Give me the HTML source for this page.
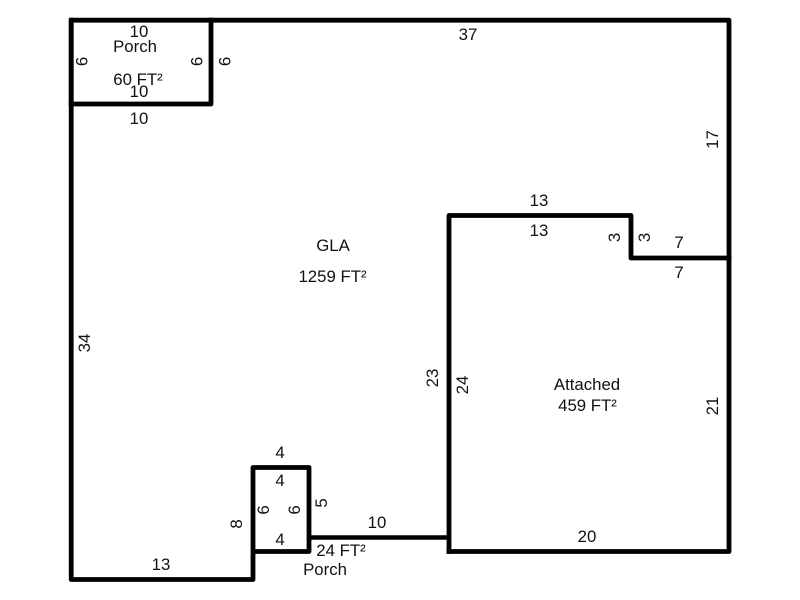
<!DOCTYPE html>
<html>
<head>
<meta charset="utf-8">
<style>
html,body{margin:0;padding:0;background:#fff}
svg{display:block}
text{font-family:"Liberation Sans",Arial,sans-serif;font-size:16.8px;fill:#111;text-anchor:middle}
</style>
</head>
<body>
<svg width="800" height="600" viewBox="0 0 800 600" xmlns="http://www.w3.org/2000/svg">
<g fill="none" stroke="#000" stroke-width="4.8" stroke-linecap="square" stroke-linejoin="round">
<path d="M71.2 104V20.2H729V551.5H449"/>
<path d="M71.2 20.2V579.5H253V467.5H309V551.5H253"/>
<path d="M71.2 104H211V20.2"/>
<path d="M449 551.5V215.5H631V258H729"/>
</g>
<path d="M309 537.5H449" fill="none" stroke="#000" stroke-width="4.4"/>
<text x="139" y="37">10</text>
<text x="135" y="52">Porch</text>
<text x="138" y="85">60 FT²</text>
<text x="139" y="97">10</text>
<text x="139" y="124">10</text>
<text x="468" y="40">37</text>
<text x="539" y="206">13</text>
<text x="539" y="236">13</text>
<text x="679" y="248">7</text>
<text x="679" y="278">7</text>
<text x="333" y="251">GLA</text>
<text x="332.5" y="282">1259 FT²</text>
<text x="587" y="390">Attached</text>
<text x="587.5" y="411">459 FT²</text>
<text x="280" y="458">4</text>
<text x="280" y="486">4</text>
<text x="280" y="545">4</text>
<text x="377" y="528">10</text>
<text x="341" y="556">24 FT²</text>
<text x="325" y="575">Porch</text>
<text x="587" y="542">20</text>
<text x="161" y="570">13</text>
<g>
<text transform="translate(87.5,61.5) rotate(-90)">6</text>
<text transform="translate(202.5,61.5) rotate(-90)">6</text>
<text transform="translate(230.5,61.5) rotate(-90)">6</text>
<text transform="translate(718,139.5) rotate(-90)">17</text>
<text transform="translate(620,237.5) rotate(-90)">3</text>
<text transform="translate(650,237.5) rotate(-90)">3</text>
<text transform="translate(90,343) rotate(-90)">34</text>
<text transform="translate(438,378) rotate(-90)">23</text>
<text transform="translate(468,385) rotate(-90)">24</text>
<text transform="translate(718,406) rotate(-90)">21</text>
<text transform="translate(269,510) rotate(-90)">6</text>
<text transform="translate(300,510) rotate(-90)">6</text>
<text transform="translate(327,503) rotate(-90)">5</text>
<text transform="translate(242,524) rotate(-90)">8</text>
</g>
</svg>
</body>
</html>
